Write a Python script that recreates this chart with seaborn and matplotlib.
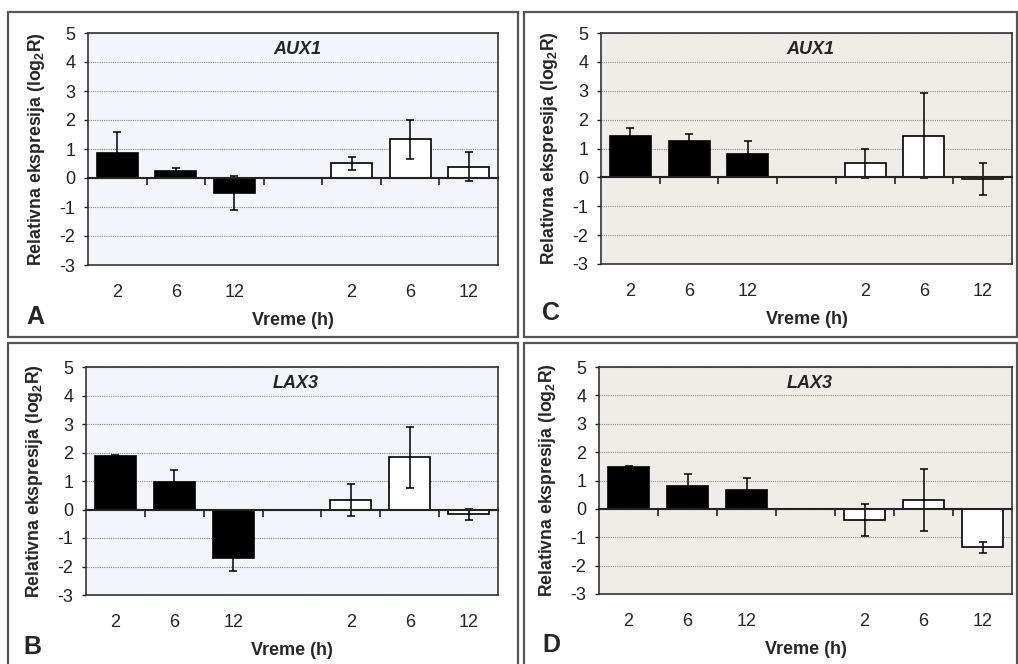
import numpy as np
import pandas as pd
import matplotlib
matplotlib.use("Agg")
import matplotlib.pyplot as plt
from matplotlib.patches import Rectangle
import seaborn as sns

# ---- data ----
slots = [0, 1, 2, 3, 4, 5, 6]
time_labels = ["2", "6", "12", "", "2", "6", "12"]
groups = ["k", "k", "k", "gap", "w", "w", "w"]
nan = np.nan

A_vals = [0.86, 0.23, -0.52, nan, 0.51, 1.33, 0.39]
A_err = [0.71, 0.11, 0.60, nan, 0.22, 0.67, 0.49]
C_vals = [1.45, 1.26, 0.81, nan, 0.49, 1.45, -0.05]
C_err = [0.27, 0.23, 0.45, nan, 0.51, 1.47, 0.55]
B_vals = [1.87, 0.98, -1.71, nan, 0.33, 1.83, -0.17]
B_err = [0.05, 0.40, 0.45, nan, 0.57, 1.08, 0.20]
D_vals = [1.48, 0.80, 0.66, nan, -0.40, 0.31, -1.36]
D_err = [0.04, 0.42, 0.44, nan, 0.57, 1.10, 0.20]

genes = {"A": "AUX1", "B": "LAX3", "C": "AUX1", "D": "LAX3"}
yticks = [-3, -2, -1, 0, 1, 2, 3, 4, 5]

sns.set_theme(style="white")
plt.rcParams["font.family"] = ["Liberation Sans", "DejaVu Sans"]
plt.rcParams["mathtext.fontset"] = "custom"
plt.rcParams["mathtext.rm"] = "Liberation Sans"
plt.rcParams["mathtext.bf"] = "Liberation Sans:bold"

fig = plt.figure(figsize=(10.18, 6.64), dpi=100)
fig.patch.set_facecolor("white")

W, H = 1018, 664
def fr(l, t, r, b):
    return [l / W, 1 - b / H, (r - l) / W, (b - t) / H]

panels = {
    "A": dict(rect=fr(88, 33, 498, 265), bg="#F2F5FA", vals=A_vals, err=A_err,
              box=(8, 12, 518, 337), letter=(26, 317)),
    "C": dict(rect=fr(601, 33, 1012, 264), bg="#EFEDE7", vals=C_vals, err=C_err,
              box=(524, 12, 1017, 337), letter=(542, 313)),
    "B": dict(rect=fr(86, 367, 498, 595), bg="#F2F5FA", vals=B_vals, err=B_err,
              box=(8, 343, 518, 680), letter=(23, 647)),
    "D": dict(rect=fr(599, 367, 1012, 594), bg="#EFEDE7", vals=D_vals, err=D_err,
              box=(524, 343, 1017, 680), letter=(542, 645)),
}

for key, p in panels.items():
    l, t, r, b = p["box"]
    fig.patches.append(Rectangle((l / W, 1 - b / H), (r - l) / W, (b - t) / H,
                                 transform=fig.transFigure, fill=False,
                                 edgecolor="#555555", linewidth=1.6, zorder=0))
    ax = fig.add_axes(p["rect"])
    ax.set_facecolor(p["bg"])
    df = pd.DataFrame({"slot": slots, "value": p["vals"], "group": groups})
    sns.barplot(data=df, x="slot", y="value", hue="group", order=slots,
                hue_order=["k", "gap", "w"],
                palette={"k": "#000000", "gap": "#ffffff", "w": "#ffffff"},
                dodge=False, width=0.7, edgecolor="black", linewidth=1.2,
                legend=False, ax=ax, zorder=2)
    ax.errorbar(slots, p["vals"], yerr=p["err"], fmt="none", ecolor="black",
                elinewidth=1.1, capsize=2.6, capthick=1.1, zorder=4)
    ax.set_ylim(-3, 5)
    ax.set_xlim(-0.5, 6.5)
    ax.set_yticks(yticks)
    ax.set_yticklabels([str(v) for v in yticks], fontsize=13)
    ax.set_xticks(slots)
    ax.set_xticklabels(time_labels, fontsize=13)
    ax.tick_params(axis="x", length=0, pad=13.5)
    ax.tick_params(axis="y", length=3, width=1, direction="out", left=True, pad=6, colors="#222222")
    ax.yaxis.grid(True, linestyle=(0, (1, 1)), color="#8a8a8a", linewidth=0.8)
    ax.xaxis.grid(False)
    ax.set_axisbelow(True)
    for s in ax.spines.values():
        s.set_color("#333333")
        s.set_linewidth(1.2)
    ax.set_xlabel("Vreme (h)", fontsize=13, fontweight="bold", labelpad=8)
    ax.set_ylabel("Relativna ekspresija (log$_{\\mathbf{2}}$R)", fontsize=12.7,
                  fontweight="bold", labelpad=9)
    ax.text(0.51, 0.927, genes[key], transform=ax.transAxes, ha="center",
            va="center", fontsize=13, fontweight="bold", fontstyle="italic")
    # zero axis line with category boundary ticks
    zero_loc = (0 - (-3)) / (5 - (-3))
    sec = ax.secondary_xaxis(zero_loc)
    sec.set_xticks([s + 0.5 for s in slots[:-1]])
    sec.set_xticklabels([])
    sec.tick_params(axis="x", direction="out", length=5, width=1.2, colors="#222222")
    sec.spines["bottom"].set_linewidth(1.5)
    sec.spines["bottom"].set_color("#222222")
    sec.set_zorder(5)
    lx, ly = p["letter"]
    fig.text(lx / W, 1 - ly / H, key, fontsize=18, fontweight="bold",
             ha="left", va="center")

fig.savefig("out.png", dpi=100, facecolor="white")
